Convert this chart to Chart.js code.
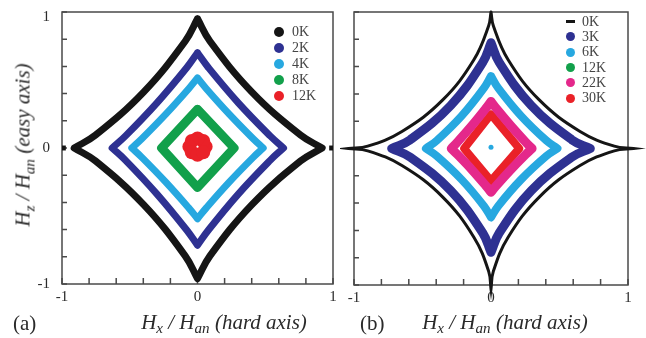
<!DOCTYPE html>
<html>
<head>
<meta charset="utf-8">
<script src="https://cdn.jsdelivr.net/npm/chart.js@4.4.1/dist/chart.umd.min.js"></script>
<style>
	html, body { margin: 0; padding: 0; background: #fff; }
	body { position: relative; width: 646px; height: 338px; overflow: hidden; font-family: "Liberation Serif", "Times New Roman", Times, "DejaVu Serif", serif; color: #2a2a2a; }
	canvas { position: absolute; top: 0; }
	#chartA { left: 0; }
	#chartB { left: 340px; }
	.title { position: absolute; font-style: italic; font-size: 21px; line-height: 1; white-space: nowrap; transform: translate(-50%, -50%); }
	.title sub { font-size: 0.72em; vertical-align: -0.3em; line-height: 0; }
	#yTitle { transform: translate(-50%, -50%) rotate(-90deg); }
	.tag { position: absolute; font-size: 21px; line-height: 1; transform: translateY(-50%); }
	.legend { position: absolute; font-size: 14px; color: #444; }
	.legend .row { position: relative; display: flex; align-items: center; }
	.legend .dot { display: inline-block; border-radius: 50%; }
	.legend .dash { display: inline-block; background: #151515; }
</style>
</head>
<body>
<canvas id="chartA" width="340" height="310"></canvas>
<canvas id="chartB" width="306" height="310"></canvas>

<div class="title" id="yTitle" style="left:23px; top:145px;">H<sub>z</sub> / H<sub>an</sub> (easy axis)</div>
<div class="title" style="left:224px; top:322px;">H<sub>x</sub> / H<sub>an</sub> (hard axis)</div>
<div class="title" style="left:505px; top:322px;">H<sub>x</sub> / H<sub>an</sub> (hard axis)</div>
<div class="tag" style="left:13px; top:323px;">(a)</div>
<div class="tag" style="left:360px; top:323px;">(b)</div>

<div class="legend" id="legendA" style="left:274px; top:24px;"></div>
<div class="legend" id="legendB" style="left:566px; top:14px;"></div>

<script>
const BLACK = '#151515';
const NAVY = '#2e3192';
const SKY = '#27a8e0';
const GREEN = '#12a04b';
const RED = '#ea2128';
const PINK = '#e4288b';

const SERIF = '"Liberation Serif", "Times New Roman", Times, serif';

const axisTicks = [-1, -0.8, -0.6, -0.4, -0.2, 0, 0.2, 0.4, 0.6, 0.8, 1];
const tickLabels = [-1, 0, 1];

// (a) switching field loops, Hx/Han vs Hz/Han
// tips are listed twice so the spline keeps a sharp corner there
const a0K = [
	[0, 0.95], [0, 0.95], [0.092, 0.785], [0.400, 0.413], [0.760, 0.095], [0.92, 0], [0.92, 0],
	[0.760, -0.096], [0.400, -0.418], [0.092, -0.793], [0, -0.96], [0, -0.96],
	[-0.091, -0.793], [-0.396, -0.418], [-0.752, -0.096], [-0.91, 0], [-0.91, 0],
	[-0.752, 0.095], [-0.396, 0.413], [-0.091, 0.785], [0, 0.95], [0, 0.95]
];
const a0KEnds = [[-0.99, 0], [0.99, 0]];
const a2K = [
	[0, 0.70], [0, 0.70], [0.081, 0.590], [0.301, 0.332], [0.536, 0.089], [0.635, 0], [0.635, 0],
	[0.536, -0.091], [0.301, -0.339], [0.081, -0.603], [0, -0.715], [0, -0.715],
	[-0.080, -0.603], [-0.299, -0.339], [-0.531, -0.091], [-0.63, 0], [-0.63, 0],
	[-0.531, 0.089], [-0.299, 0.332], [-0.080, 0.590], [0, 0.70], [0, 0.70]
];
const a4K = [
	[0, 0.515], [0, 0.515], [0.065, 0.436], [0.234, 0.249], [0.411, 0.068], [0.485, 0], [0.485, 0],
	[0.411, -0.069], [0.234, -0.251], [0.065, -0.440], [0, -0.52], [0, -0.52],
	[-0.065, -0.440], [-0.234, -0.251], [-0.411, -0.069], [-0.485, 0], [-0.485, 0],
	[-0.411, 0.068], [-0.234, 0.249], [-0.065, 0.436], [0, 0.515], [0, 0.515]
];
const a8K = [[0, 0.285], [0.27, 0], [0, -0.29], [-0.265, 0], [0, 0.285]];
const a12K = [
	[0.06, 0.01], [0.042, 0.052], [0, 0.07], [-0.042, 0.052],
	[-0.06, 0.01], [-0.042, -0.032], [0, -0.05], [0.042, -0.032]
];

// (b)
const b0K = [
	[0, 1.0], [0, 1.0], [0.017, 0.90], [0.125, 0.65], [0.354, 0.354], [0.65, 0.125], [0.90, 0.017], [1.04, 0], [1.04, 0],
	[0.90, -0.017], [0.65, -0.125], [0.354, -0.354], [0.125, -0.65], [0.017, -0.90], [0, -1.03], [0, -1.03],
	[-0.017, -0.90], [-0.125, -0.65], [-0.354, -0.354], [-0.65, -0.125], [-0.90, -0.017], [-1.04, 0], [-1.04, 0],
	[-0.90, 0.017], [-0.65, 0.125], [-0.354, 0.354], [-0.125, 0.65], [-0.017, 0.90], [0, 1.0], [0, 1.0]
];
const b3K = [
	[0, 0.775], [0, 0.775], [0.060, 0.631], [0.294, 0.315], [0.590, 0.064], [0.725, 0], [0.725, 0],
	[0.590, -0.063], [0.294, -0.309], [0.060, -0.619], [0, -0.76], [0, -0.76],
	[-0.060, -0.619], [-0.294, -0.309], [-0.590, -0.063], [-0.725, 0], [-0.725, 0],
	[-0.590, 0.064], [-0.294, 0.315], [-0.060, 0.631], [0, 0.775], [0, 0.775]
];
const b6K = [
	[0, 0.53], [0, 0.53], [0.053, 0.442], [0.219, 0.239], [0.404, 0.058], [0.485, 0], [0.485, 0],
	[0.404, -0.055], [0.219, -0.228], [0.053, -0.421], [0, -0.505], [0, -0.505],
	[-0.052, -0.421], [-0.214, -0.228], [-0.396, -0.055], [-0.475, 0], [-0.475, 0],
	[-0.396, 0.058], [-0.214, 0.239], [-0.052, 0.442], [0, 0.53], [0, 0.53]
];
const b6KCentre = [[0, 0.01]];
const b12K = [[0, 0.335], [0.29, 0], [0, -0.31], [-0.28, 0], [0, 0.335]];
const b22K = [
	[0, 0.345], [0, 0.345], [0.040, 0.292], [0.145, 0.167], [0.254, 0.046], [0.30, 0], [0.30, 0],
	[0.254, -0.043], [0.145, -0.155], [0.040, -0.271], [0, -0.32], [0, -0.32],
	[-0.039, -0.271], [-0.140, -0.155], [-0.246, -0.043], [-0.29, 0], [-0.29, 0],
	[-0.246, 0.046], [-0.140, 0.167], [-0.039, 0.292], [0, 0.345], [0, 0.345]
];
const b30K = [[0, 0.25], [0.206, 0], [0, -0.237], [-0.196, 0], [0, 0.25]];

const seriesA = [
	{label: '0K', color: BLACK, points: a0K, width: 7, tension: 0.4},
	{label: '2K', color: NAVY, points: a2K, width: 7, tension: 0.4},
	{label: '4K', color: SKY, points: a4K, width: 7, tension: 0.4},
	{label: '8K', color: GREEN, points: a8K, width: 9, tension: 0},
	{label: '12K', color: RED, points: a12K, dots: 7},
	{label: '0K', color: BLACK, points: a0KEnds, dots: 3.5, pointStyle: 'rect', legend: false}
];

const seriesB = [
	{label: '0K', color: BLACK, points: b0K, width: 3, tension: 0.4, join: 'miter', clip: false, dash: true},
	{label: '3K', color: NAVY, points: b3K, width: 9, tension: 0.4},
	{label: '6K', color: SKY, points: b6K, width: 8, tension: 0.4},
	{label: '12K', color: GREEN, points: b12K, width: 5, tension: 0, order: 1},
	{label: '22K', color: PINK, points: b22K, width: 9, tension: 0.4},
	{label: '30K', color: RED, points: b30K, width: 8, tension: 0},
	{label: '6K', color: SKY, points: b6KCentre, dots: 2.5, legend: false}
];

function toXY(points) {
	return points.map(p => ({x: p[0], y: p[1]}));
}

function makeDataset(s) {
	let ds = {
		label: s.label,
		data: toXY(s.points),
		showLine: !s.dots,
		borderColor: s.color,
		backgroundColor: s.color,
		borderWidth: s.width || 0,
		tension: s.tension || 0,
		borderJoinStyle: s.join || 'round',
		borderCapStyle: 'round',
		pointRadius: s.dots || 0,
		pointBorderWidth: 0,
		pointStyle: s.pointStyle || 'circle',
		order: s.order || 0
	};
	if (s.clip === false) {
		ds.clip = false;
		ds.capBezierPoints = false;
	}
	return ds;
}

// box, inward ticks on the left and bottom edges, tick labels
const framePlugin = {
	id: 'frame',
	beforeDatasetsDraw(chart, args, opts) {
		let ctx = chart.ctx;
		let area = chart.chartArea;
		let xs = chart.scales.x;
		let ys = chart.scales.y;
		ctx.save();
		ctx.strokeStyle = '#4a4a4a';
		ctx.lineWidth = 1.5;
		ctx.strokeRect(area.left, area.top, area.right - area.left, area.bottom - area.top);
		ctx.beginPath();
		axisTicks.forEach(function(v) {
			let px = xs.getPixelForValue(v);
			let py = ys.getPixelForValue(v);
			ctx.moveTo(px, area.bottom);
			ctx.lineTo(px, area.bottom - 6);
			ctx.moveTo(area.left, py);
			ctx.lineTo(area.left + 5, py);
		});
		ctx.stroke();

		ctx.fillStyle = '#2a2a2a';
		ctx.font = '15px ' + SERIF;
		ctx.textAlign = 'center';
		ctx.textBaseline = 'middle';
		tickLabels.forEach(function(v) {
			ctx.fillText(String(v), xs.getPixelForValue(v), area.bottom + 13);
		});
		if (opts.yLabels) {
			ctx.textAlign = 'right';
			tickLabels.forEach(function(v) {
				let shift = v === 1 ? 5 : 0;
				ctx.fillText(String(v), area.left - 12, ys.getPixelForValue(v) + shift);
			});
		}
		ctx.restore();
	}
};

function buildPanel(canvasId, series, padding, yLabels) {
	let ctx = document.getElementById(canvasId).getContext('2d');
	return new Chart(ctx, {
		type: 'scatter',
		data: {datasets: series.map(makeDataset)},
		options: {
			responsive: false,
			animation: false,
			devicePixelRatio: 1,
			events: [],
			layout: {padding: padding},
			scales: {
				x: {type: 'linear', min: -1, max: 1, display: false},
				y: {type: 'linear', min: -1, max: 1, display: false}
			},
			plugins: {
				legend: {display: false},
				tooltip: {enabled: false},
				frame: {yLabels: yLabels}
			}
		},
		plugins: [framePlugin]
	});
}

function buildLegend(elId, series, rowHeight, markSize, textGap) {
	let box = document.getElementById(elId);
	series.filter(s => s.legend !== false).forEach(function(s) {
		let row = document.createElement('div');
		row.className = 'row';
		row.style.height = rowHeight + 'px';
		let mark = document.createElement('span');
		if (s.dash) {
			mark.className = 'dash';
			mark.style.width = markSize + 'px';
			mark.style.height = '3px';
		} else {
			mark.className = 'dot';
			mark.style.width = markSize + 'px';
			mark.style.height = markSize + 'px';
			mark.style.background = s.color;
		}
		let text = document.createElement('span');
		text.textContent = s.label;
		text.style.marginLeft = textGap + 'px';
		row.appendChild(mark);
		row.appendChild(text);
		box.appendChild(row);
	});
}

buildPanel('chartA', seriesA, {left: 62, top: 12, right: 6, bottom: 26}, true);
buildPanel('chartB', seriesB, {left: 14, top: 12, right: 18, bottom: 25}, false);
buildLegend('legendA', seriesA, 16, 10, 8);
buildLegend('legendB', seriesB, 15.3, 9, 7);
</script>
</body>
</html>
